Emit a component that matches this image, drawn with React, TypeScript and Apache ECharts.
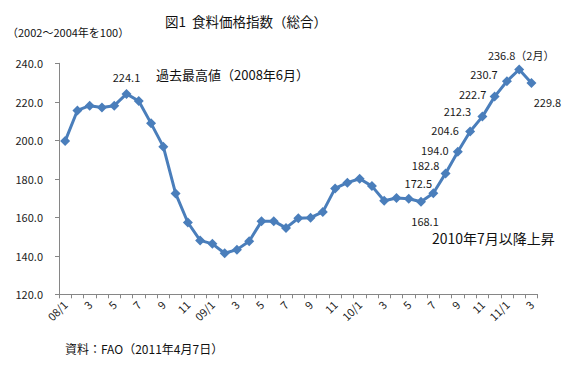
import React, { useEffect, useRef } from "react";
import * as echarts from "echarts";

const years = ["08", "09", "10", "11"];
const monthsPerYear = [12, 12, 12, 3];
const categories: string[] = [];
years.forEach((yy, i) => {
  for (let m = 1; m <= monthsPerYear[i]; m++) {
    categories.push(m === 1 ? `${yy}/1` : `${m}`);
  }
});

const values2008 = [199.6, 215.5, 218.0, 217.0, 218.0, 224.1, 220.4, 208.8, 196.7, 172.4, 157.3, 148.0];
const values2009 = [146.2, 141.3, 143.2, 147.6, 157.9, 158.0, 154.5, 159.5, 159.8, 162.8, 175.0, 178.0];
const values2010 = [180.0, 176.2, 168.6, 170.0, 169.6, 168.1, 172.5, 182.8, 194.0, 204.6, 212.3, 222.7];
const values2011 = [230.7, 236.8, 229.8];
const values = [...values2008, ...values2009, ...values2010, ...values2011];

// index of labelled point -> label offset [dx, dy] and suffix
const labelOffsets: Record<number, [number, number]> = {
  5: [0, -17],
  29: [4, 19],
  30: [-15, -10],
  31: [-20, -8],
  32: [-23, -2],
  33: [-25, -1],
  34: [-25, -6],
  35: [-22, -3],
  36: [-23, -7],
  37: [2, -14],
  38: [16, 19],
};
const labelSuffix: Record<number, string> = { 37: "（2月）" };

const FONT = "'Noto Sans CJK JP', sans-serif";

export default function App() {
  const ref = useRef<HTMLDivElement>(null);
  useEffect(() => {
    if (!ref.current) return;
    const chart = echarts.init(ref.current, undefined, { renderer: "svg" });
    const data = values.map((v, i) => {
      const off = labelOffsets[i];
      if (!off) return { value: v };
      return {
        value: v,
        label: {
          show: true,
          position: "inside",
          offset: off,
          formatter: () => v.toFixed(1) + (labelSuffix[i] || ""),
          fontSize: 11,
          color: "#1a1a1a",
          fontFamily: FONT,
        },
      };
    });
    chart.setOption({
      animation: false,
      backgroundColor: "#ffffff",
      textStyle: { fontFamily: FONT },
      title: {
        text: "図1  食料価格指数（総合）",
        left: 160,
        top: 9,
        textStyle: { fontSize: 13.5, fontWeight: "normal", color: "#111", fontFamily: FONT },
      },
      graphic: [
        {
          type: "text",
          left: 7,
          top: 26,
          style: { text: "（2002～2004年を100）", fontSize: 11, fill: "#111", fontFamily: FONT },
        },
        {
          type: "text",
          left: 156,
          top: 68,
          style: { text: "過去最高値（2008年6月）", fontSize: 13, fill: "#111", fontFamily: FONT },
        },
        {
          type: "text",
          left: 432,
          top: 231,
          style: { text: "2010年7月以降上昇", fontSize: 14, fill: "#111", fontFamily: FONT },
        },
        {
          type: "text",
          left: 65,
          top: 342,
          style: { text: "資料：FAO（2011年4月7日）", fontSize: 12, fill: "#111", fontFamily: FONT },
        },
      ],
      grid: { left: 59, right: 42.4, top: 63.3, bottom: 77.7, containLabel: false },
      xAxis: {
        type: "category",
        data: categories,
        boundaryGap: true,
        axisLine: { lineStyle: { color: "#868686", width: 1 } },
        axisTick: { show: true, interval: 0, length: 4, lineStyle: { color: "#868686" } },
        axisLabel: {
          interval: 1,
          rotate: 45,
          margin: 8,
          fontSize: 11,
          color: "#222",
          fontFamily: FONT,
        },
        splitLine: { show: false },
      },
      yAxis: {
        type: "value",
        min: 120,
        max: 240,
        interval: 20,
        axisLine: { show: true, lineStyle: { color: "#868686", width: 1 } },
        axisTick: { show: true, length: 4, lineStyle: { color: "#868686" } },
        axisLabel: {
          formatter: (v: number) => v.toFixed(1),
          fontSize: 11,
          color: "#222",
          margin: 16,
          fontFamily: FONT,
        },
        splitLine: { show: false },
      },
      series: [
        {
          type: "line",
          data,
          symbol: "diamond",
          symbolSize: 10,
          showAllSymbol: true,
          lineStyle: { color: "#4a7ebb", width: 3 },
          itemStyle: { color: "#4a7ebb" },
          label: { show: false },
        },
      ],
    });
    return () => chart.dispose();
  }, []);
  return (
    <div
      ref={ref}
      style={{ position: "fixed", left: 0, top: 0, width: 580, height: 372 }}
    />
  );
}
